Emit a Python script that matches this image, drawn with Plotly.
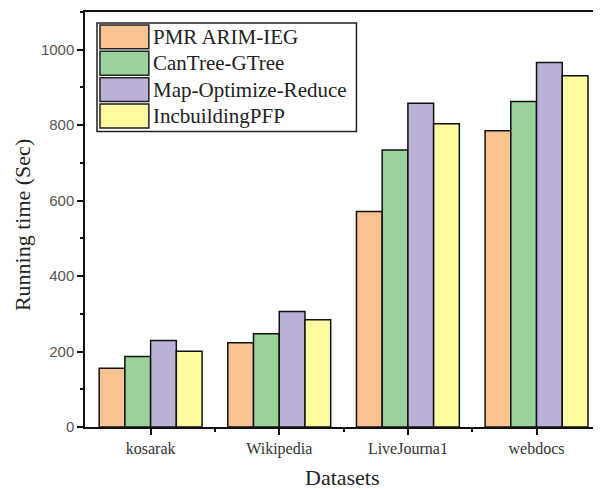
import plotly.graph_objects as go

categories = ["kosarak", "Wikipedia", "LiveJournal", "webdocs"]
tick_labels = ["kosarak", "Wikipedia", "LiveJourna1", "webdocs"]
series_names = ["PMR ARIM-IEG", "CanTree-GTree", "Map-Optimize-Reduce", "IncbuildingPFP"]
pmrarim = [156, 223, 571, 785]
cantree = [187, 247, 734, 863]
mapopt = [229, 306, 858, 966]
incbuild = [201, 284, 804, 931]
series_values = [pmrarim, cantree, mapopt, incbuild]
colors = ["#F9C391", "#99D39B", "#BDB0D7", "#FEFBA0"]

OFF = 8  # page body margin offset
W, H = 601 - OFF, 489 - OFF
L, R, T, B = 85 - OFF, 3, 10 - OFF, 62
pw, ph = W - L - R, H - T - B

def px_x(x):
    return (x - OFF - L) / pw

def px_y(y):
    return (H - B - (y - OFF)) / ph

xpos = list(range(len(categories)))

fig = go.Figure()
for name, vals, col in zip(series_names, series_values, colors):
    fig.add_trace(go.Bar(
        x=xpos, y=vals, name=name,
        marker=dict(color=col, line=dict(color="#111111", width=1.5)),
        showlegend=False,
    ))

serif = "Liberation Serif, Times New Roman, serif"

shapes = [dict(type="rect", xref="paper", yref="paper",
               x0=px_x(97), x1=px_x(357), y0=px_y(130), y1=px_y(21),
               line=dict(color="#222222", width=1.5), fillcolor="white", layer="above")]
annotations = []
row_top = [23, 49.5, 76, 102.5]
for i, (name, col) in enumerate(zip(series_names, colors)):
    t = row_top[i]
    shapes.append(dict(type="rect", xref="paper", yref="paper",
                       x0=px_x(100), x1=px_x(149), y0=px_y(t + 24), y1=px_y(t),
                       line=dict(color="#222222", width=1.5), fillcolor=col, layer="above"))
    annotations.append(dict(xref="paper", yref="paper", x=px_x(151), y=px_y(t + 12),
                            text=name, showarrow=False, xanchor="left", yanchor="middle",
                            font=dict(family=serif, size=21, color="#222222")))

annotations.append(dict(xref="paper", yref="paper", x=px_x(23), y=px_y(224),
                        text="Running time (Sec)", showarrow=False, textangle=-90,
                        xanchor="center", yanchor="middle",
                        font=dict(family=serif, size=22, color="#222222")))
annotations.append(dict(xref="paper", yref="paper", x=px_x(343), y=px_y(478),
                        text="Datasets", showarrow=False,
                        xanchor="center", yanchor="middle",
                        font=dict(family=serif, size=22, color="#222222")))

fig.update_layout(
    width=W, height=H,
    margin=dict(l=L, r=R, t=T, b=B, pad=0),
    plot_bgcolor="white", paper_bgcolor="white",
    barmode="group", bargap=0.2, bargroupgap=0,
    shapes=shapes, annotations=annotations,
    showlegend=False,
)
fig.update_xaxes(
    range=[-0.51, 3.47], tickmode="array", tickvals=xpos, ticktext=tick_labels,
    showline=True, linecolor="#111111", linewidth=1.5, mirror=True,
    ticks="outside", ticklen=6, tickwidth=1.5, tickcolor="#111111",
    minor=dict(tickvals=[0.5, 1.5, 2.5], ticks="outside", ticklen=3, tickcolor="#111111", tickwidth=1.5),
    tickfont=dict(family=serif, size=16, color="#333333"),
    showgrid=False, zeroline=False,
)
fig.update_yaxes(
    range=[0, 1100], tickmode="linear", tick0=0, dtick=200,
    showline=True, linecolor="#111111", linewidth=1.5, mirror=True,
    ticks="outside", ticklen=6, tickwidth=1.5, tickcolor="#111111",
    minor=dict(dtick=100, ticks="outside", ticklen=3, tickcolor="#111111", tickwidth=1.5),
    tickfont=dict(family="Liberation Sans, Arial, sans-serif", size=15, color="#555555"),
    showgrid=False, zeroline=False,
)

fig.write_html("out.html")
